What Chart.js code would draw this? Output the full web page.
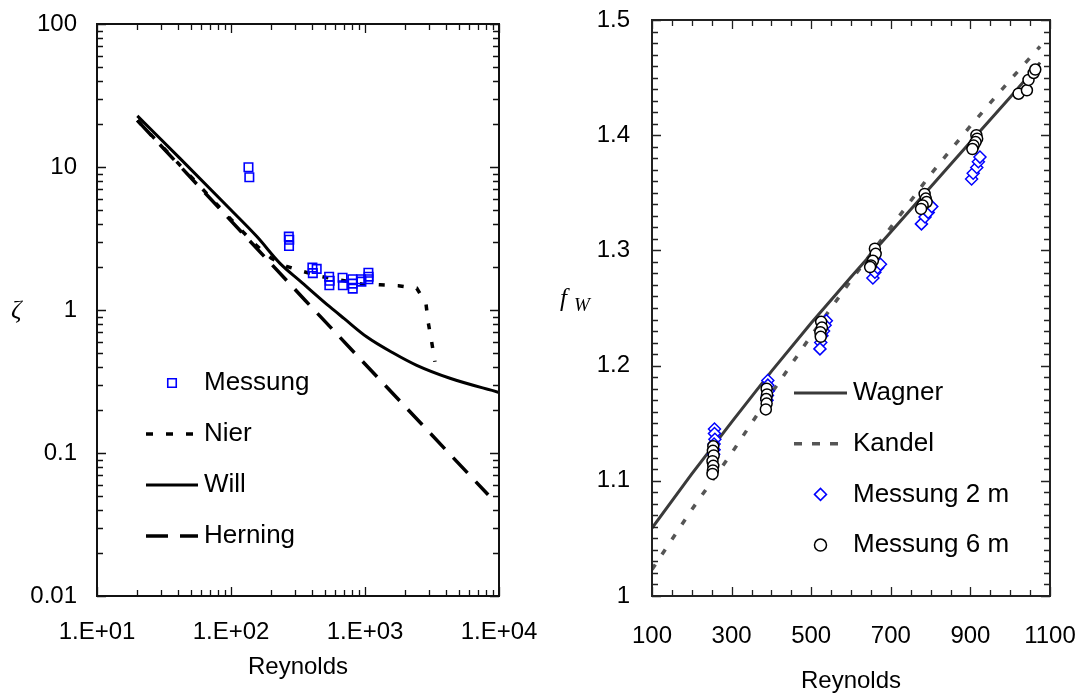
<!DOCTYPE html>
<html>
<head>
<meta charset="utf-8">
<script src="https://cdn.jsdelivr.net/npm/chart.js@4.4.1/dist/chart.umd.min.js"></script>
<style>
  html, body { margin: 0; padding: 0; background: #fff; }
  #wrap { position: relative; width: 1082px; height: 699px; }
  #left { position: absolute; left: 0; top: 0; }
  #right { position: absolute; left: 540px; top: 0; }
</style>
</head>
<body>
<div id="wrap">
  <canvas id="left" width="540" height="699"></canvas>
  <canvas id="right" width="542" height="699"></canvas>
</div>
<script>
// --- linke Grafik: zeta ueber Reynolds (log-log) ---------------------------
const leftXTicks = [10, 100, 1000, 10000]
const leftXLabels = ['1.E+01', '1.E+02', '1.E+03', '1.E+04']
const leftYTicks = [0.01, 0.1, 1, 10, 100]
const leftYLabels = ['0.01', '0.1', '1', '10', '100']

const reMessung = [135, 137, 270, 272, 271, 405, 436, 408, 540, 545, 542, 680, 684, 805, 808, 810, 935, 940, 1060, 1064, 1060]
const zetaMessung = [9.95, 8.47, 3.26, 3.1, 2.8, 1.98, 1.94, 1.81, 1.71, 1.6, 1.49, 1.68, 1.49, 1.64, 1.53, 1.41, 1.64, 1.58, 1.82, 1.71, 1.64]

const reNier = [20, 50, 100, 150, 200, 260, 337, 475, 700, 944, 1295, 1774, 2432, 2850, 2970, 3142, 3327]
const zetaNier = [21.2, 8.6, 4.3, 2.9, 2.3, 2.02, 1.87, 1.71, 1.6, 1.52, 1.5, 1.48, 1.42, 1.11, 0.81, 0.6, 0.435]

const reWill = [20, 41.6, 100, 156, 232, 327, 548, 700, 1028, 1626, 2432, 4306, 10000]
const zetaWill = [22.8, 11.5, 5.0, 3.26, 2.12, 1.6, 1.05, 0.87, 0.65, 0.5, 0.41, 0.333, 0.265]

const reHerning = [20, 357, 8300]
const zetaHerning = [21.2, 1.17, 0.051]

// --- rechte Grafik: fW ueber Reynolds ----------------------------------------
const rightXTicks = [100, 300, 500, 700, 900, 1100]
const rightXLabels = ['100', '300', '500', '700', '900', '1100']
const rightYTicks = [1, 1.1, 1.2, 1.3, 1.4, 1.5]
const rightYLabels = ['1', '1.1', '1.2', '1.3', '1.4', '1.5']

const reWagner = [100, 200, 300, 400, 500, 600, 700, 800, 900, 1000, 1075]
const fwWagner = [1.059, 1.106, 1.151, 1.195, 1.237, 1.277, 1.316, 1.355, 1.394, 1.433, 1.463]

const reKandel = [100, 200, 300, 400, 500, 600, 700, 800, 900, 1000, 1075]
const fwKandel = [1.023, 1.075, 1.124, 1.176, 1.226, 1.274, 1.32, 1.366, 1.408, 1.448, 1.477]

const re2m = [257, 257, 258, 256, 256, 255, 391, 391, 392, 390, 389, 538, 535, 531, 527, 524, 522, 655, 660, 667, 674, 777, 786, 794, 803, 903, 907, 916, 920, 924]
const fw2m = [1.145, 1.141, 1.136, 1.132, 1.127, 1.123, 1.187, 1.183, 1.178, 1.174, 1.17, 1.239, 1.235, 1.23, 1.226, 1.22, 1.2145, 1.276, 1.281, 1.285, 1.288, 1.323, 1.329, 1.333, 1.338, 1.362, 1.367, 1.372, 1.377, 1.381]

const re6m = [254, 253, 255, 252, 254, 253, 252, 388, 389, 387, 388, 386, 525, 527, 523, 524, 660, 662, 655, 650, 648, 785, 788, 790, 780, 776, 915, 917, 913, 908, 905, 1021, 1042, 1046, 1059, 1063]
const fw6m = [1.13, 1.126, 1.122, 1.117, 1.113, 1.109, 1.106, 1.18, 1.175, 1.171, 1.167, 1.162, 1.238, 1.233, 1.229, 1.225, 1.3015, 1.297, 1.291, 1.287, 1.2855, 1.349, 1.345, 1.342, 1.339, 1.336, 1.4, 1.397, 1.394, 1.391, 1.388, 1.436, 1.439, 1.448, 1.454, 1.457]

const pts = (xs, ys) => xs.map((x, i) => ({ x, y: ys[i] }))

// Zwischenstriche (nur Markierungen, keine Daten)
function logMinor(lo, hi) {
  const out = []
  for (let d = lo; d < hi; d *= 10) for (let k = 2; k <= 9; k++) out.push(d * k)
  return out
}
function linMinor(lo, hi, step) {
  const out = []
  const n = Math.round((hi - lo) / step)
  for (let i = 0; i <= n; i++) out.push(lo + i * step)
  return out
}

Chart.defaults.font.family = "'Liberation Sans', Arial, sans-serif"
Chart.defaults.color = '#000'

// Rahmen + nach innen zeigende Striche auf allen vier Seiten
const insideTicks = {
  id: 'insideTicks',
  afterDatasetsDraw(chart, args, o) {
    const { ctx, chartArea: a, scales: { x, y } } = chart
    ctx.save()
    ctx.strokeStyle = o.color
    ctx.lineWidth = 1.3
    ctx.beginPath()
    const vert = (vals, len) => vals.forEach(v => {
      const px = Math.round(x.getPixelForValue(v)) + 0.5
      ctx.moveTo(px, a.bottom); ctx.lineTo(px, a.bottom - len)
      ctx.moveTo(px, a.top); ctx.lineTo(px, a.top + len)
    })
    const horiz = (vals, len) => vals.forEach(v => {
      const py = Math.round(y.getPixelForValue(v)) + 0.5
      ctx.moveTo(a.left, py); ctx.lineTo(a.left + len, py)
      ctx.moveTo(a.right, py); ctx.lineTo(a.right - len, py)
    })
    vert(o.xMinor, o.minorLen); vert(o.xMajor, o.majorLen)
    horiz(o.yMinor, o.minorLen); horiz(o.yMajor, o.majorLen)
    ctx.stroke()
    ctx.lineWidth = 2
    ctx.strokeRect(a.left, a.top, a.right - a.left, a.bottom - a.top)
    ctx.restore()
  }
}

// Legende im Diagramm, Zeilen nach Datensatz-Label
const legendBox = {
  id: 'legendBox',
  afterDraw(chart, args, o) {
    const { ctx } = chart
    o.items.forEach((label, i) => {
      const ds = chart.data.datasets.find(d => d.label === label)
      const y = o.y + i * o.gap
      ctx.save()
      if (ds.showLine) {
        ctx.strokeStyle = ds.borderColor
        ctx.lineWidth = ds.borderWidth
        ctx.setLineDash(o.dash[label] || [])
        ctx.beginPath()
        ctx.moveTo(o.x, y)
        ctx.lineTo(o.x + o.len, y)
        ctx.stroke()
      } else {
        ctx.strokeStyle = ds.borderColor
        ctx.fillStyle = ds.backgroundColor
        ctx.lineWidth = ds.pointBorderWidth
        Chart.helpers.drawPoint(ctx, { pointStyle: ds.pointStyle, radius: o.markerRadius, borderWidth: ds.pointBorderWidth, rotation: 0 }, o.x + o.len / 2, y)
      }
      ctx.setLineDash([])
      ctx.fillStyle = '#000'
      ctx.font = o.fontSize + "px 'Liberation Sans', Arial, sans-serif"
      ctx.textBaseline = 'middle'
      ctx.textAlign = 'left'
      ctx.fillText(label, o.textX, y)
      ctx.restore()
    })
  }
}

// y-Achsentitel waagrecht (Symbol, nicht gedreht)
const yTitle = {
  id: 'yTitle',
  afterDraw(chart, args, o) {
    const { ctx } = chart
    ctx.save()
    ctx.fillStyle = '#000'
    ctx.textBaseline = 'alphabetic'
    o.parts.forEach(p => {
      ctx.font = 'italic ' + p.size + "px 'Liberation Serif', 'Times New Roman', serif"
      ctx.fillText(p.text, p.x, p.y)
    })
    ctx.restore()
  }
}

function axisOpts(type, min, max, tickVals, tickLabels, size, pad) {
  return {
    type, min, max,
    afterBuildTicks: s => { s.ticks = tickVals.map(v => ({ value: v })) },
    grid: { display: false, drawTicks: false },
    border: { display: false },
    ticks: {
      padding: pad,
      autoSkip: false,
      maxRotation: 0,
      font: { size: 24 },
      color: '#000',
      callback: (v, i) => tickLabels[i]
    },
    afterFit: s => {
      if (s.isHorizontal()) s.height = size; else s.width = size
      // Randabstaende kommen aus layout.padding
      s.paddingLeft = 0; s.paddingRight = 0; s.paddingTop = 0; s.paddingBottom = 0
    }
  }
}

// --- linke Grafik ---
const leftX = axisOpts('logarithmic', 10, 10000, leftXTicks, leftXLabels, 103, 22)
leftX.title = { display: true, text: 'Reynolds', font: { size: 24 }, color: '#000', padding: { top: 0, bottom: 17 } }
const leftY = axisOpts('logarithmic', 0.01, 100, leftYTicks, leftYLabels, 97, 20)

new Chart(document.getElementById('left'), {
  type: 'scatter',
  data: {
    datasets: [
      {
        label: 'Messung',
        data: pts(reMessung, zetaMessung),
        pointStyle: 'rect',
        pointRadius: 6,
        pointBorderWidth: 1.6,
        borderColor: '#0000ff',
        backgroundColor: 'rgba(0,0,0,0)',
        showLine: false
      },
      {
        label: 'Nier',
        data: pts(reNier, zetaNier),
        showLine: true,
        pointRadius: 0,
        borderColor: '#000',
        borderWidth: 3.5,
        borderDash: [6, 13]
      },
      {
        label: 'Will',
        data: pts(reWill, zetaWill),
        showLine: true,
        pointRadius: 0,
        borderColor: '#000',
        borderWidth: 3,
        cubicInterpolationMode: 'monotone'
      },
      {
        label: 'Herning',
        data: pts(reHerning, zetaHerning),
        showLine: true,
        pointRadius: 0,
        borderColor: '#000',
        borderWidth: 3.5,
        borderDash: [21, 12]
      }
    ]
  },
  options: {
    responsive: false,
    animation: false,
    layout: { padding: { left: 0, right: 41, top: 24, bottom: 0 } },
    scales: { x: leftX, y: leftY },
    plugins: {
      legend: { display: false },
      tooltip: { enabled: false },
      insideTicks: {
        color: '#111',
        xMajor: leftXTicks, xMinor: logMinor(10, 10000),
        yMajor: leftYTicks, yMinor: logMinor(0.01, 100),
        majorLen: 9, minorLen: 6
      },
      legendBox: {
        items: ['Messung', 'Nier', 'Will', 'Herning'],
        dash: { Nier: [7, 13], Herning: [22, 12] },
        x: 146, len: 52, textX: 204, y: 383, gap: 51,
        fontSize: 26, markerRadius: 6
      },
      yTitle: { parts: [{ text: 'ζ', size: 26, x: 11, y: 318 }] }
    }
  },
  plugins: [insideTicks, legendBox, yTitle]
})

// --- rechte Grafik ---
const rightX = axisOpts('linear', 100, 1100, rightXTicks, rightXLabels, 103, 26)
rightX.title = { display: true, text: 'Reynolds', font: { size: 24 }, color: '#000', padding: { top: 0, bottom: 3 } }
const rightY = axisOpts('linear', 1, 1.5, rightYTicks, rightYLabels, 112, 22)

new Chart(document.getElementById('right'), {
  type: 'scatter',
  data: {
    datasets: [
      {
        label: 'Messung 6 m',
        data: pts(re6m, fw6m),
        pointStyle: 'circle',
        pointRadius: 5.5,
        pointBorderWidth: 1.5,
        borderColor: '#000',
        backgroundColor: '#fff',
        showLine: false
      },
      {
        label: 'Messung 2 m',
        data: pts(re2m, fw2m),
        pointStyle: 'rectRot',
        pointRadius: 6,
        pointBorderWidth: 1.5,
        borderColor: '#0000ff',
        backgroundColor: '#fff',
        showLine: false
      },
      {
        label: 'Wagner',
        data: pts(reWagner, fwWagner),
        showLine: true,
        pointRadius: 0,
        borderColor: '#3a3a3a',
        borderWidth: 3
      },
      {
        label: 'Kandel',
        data: pts(reKandel, fwKandel),
        showLine: true,
        pointRadius: 0,
        borderColor: '#555',
        borderWidth: 3.5,
        borderDash: [6, 12]
      }
    ]
  },
  options: {
    responsive: false,
    animation: false,
    layout: { padding: { left: 0, right: 32, top: 20, bottom: 0 } },
    scales: { x: rightX, y: rightY },
    plugins: {
      legend: { display: false },
      tooltip: { enabled: false },
      insideTicks: {
        color: '#222',
        xMajor: rightXTicks, xMinor: linMinor(100, 1100, 50),
        yMajor: rightYTicks, yMinor: linMinor(1, 1.5, 0.01),
        majorLen: 9, minorLen: 6
      },
      legendBox: {
        items: ['Wagner', 'Kandel', 'Messung 2 m', 'Messung 6 m'],
        dash: { Kandel: [8, 10] },
        x: 254, len: 53, textX: 313, y: 393, gap: 50.7,
        fontSize: 26, markerRadius: 6
      },
      yTitle: {
        parts: [
          { text: 'f', size: 25, x: 20, y: 306 },
          { text: 'W', size: 19, x: 34, y: 311 }
        ]
      }
    }
  },
  plugins: [insideTicks, legendBox, yTitle]
})
</script>
</body>
</html>
